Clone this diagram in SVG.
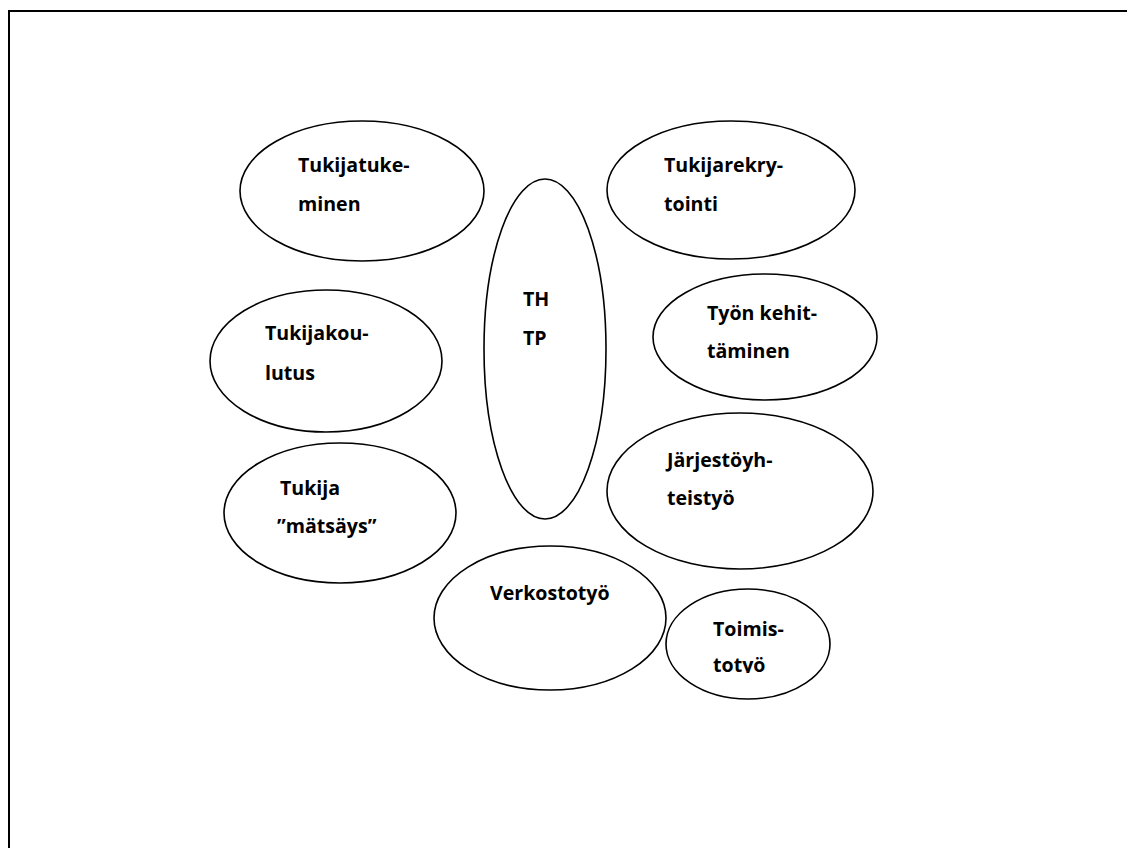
<svg xmlns="http://www.w3.org/2000/svg" width="1127" height="848" viewBox="0 0 1127 848">
<style>
.n{fill:#fff;stroke:#000;stroke-width:1.6}
.t{font-family:"Open Sans","DejaVu Sans",sans-serif;font-weight:bold;font-size:19.6px;fill:#000}
</style>
<defs>
<clipPath id="clipToim"><rect x="700" y="560" width="120" height="113"/></clipPath>
</defs>
<rect width="1127" height="848" fill="#fff"/>
<path d="M9,848 V11 H1127" fill="none" stroke="#000" stroke-width="2"/>
<g id="connectors"></g>
<g id="tukijatukeminen"><ellipse class="n" cx="362" cy="191" rx="122" ry="70"/><text class="t" x="298" y="172">Tukijatuke-</text><text class="t" x="298" y="211">minen</text></g>
<g id="tukijarekrytointi"><ellipse class="n" cx="731" cy="190" rx="124" ry="69"/><text class="t" x="664" y="172">Tukijarekry-</text><text class="t" x="664" y="211">tointi</text></g>
<g id="thtp"><ellipse class="n" cx="545" cy="349" rx="61" ry="170"/><text class="t" x="523" y="306">TH</text><text class="t" x="523" y="345">TP</text></g>
<g id="tyonkehittaminen"><ellipse class="n" cx="765" cy="337" rx="112" ry="63"/><text class="t" x="707" y="320">Työn kehit-</text><text class="t" x="707" y="358">täminen</text></g>
<g id="tukijakoulutus"><ellipse class="n" cx="326" cy="361" rx="116" ry="71"/><text class="t" x="265" y="340">Tukijakou-</text><text class="t" x="265" y="380">lutus</text></g>
<g id="jarjestoyhteistyo"><ellipse class="n" cx="740" cy="491" rx="133" ry="78"/><text class="t" x="667" y="467">Järjestöyh-</text><text class="t" x="667" y="505">teistyö</text></g>
<g id="tukijamatsays"><ellipse class="n" cx="340" cy="513" rx="116" ry="70"/><text class="t" x="280" y="495">Tukija</text><text class="t" x="277" y="533">”mätsäys”</text></g>
<g id="verkostotyo"><ellipse class="n" cx="550" cy="618" rx="116" ry="72"/><text class="t" x="490" y="600">Verkostotyö</text></g>
<g id="toimistotyo"><ellipse class="n" cx="748" cy="644" rx="82" ry="55"/><text class="t" x="713" y="636">Toimis-</text><text class="t" x="713" y="672" clip-path="url(#clipToim)">totyö</text></g>
</svg>
